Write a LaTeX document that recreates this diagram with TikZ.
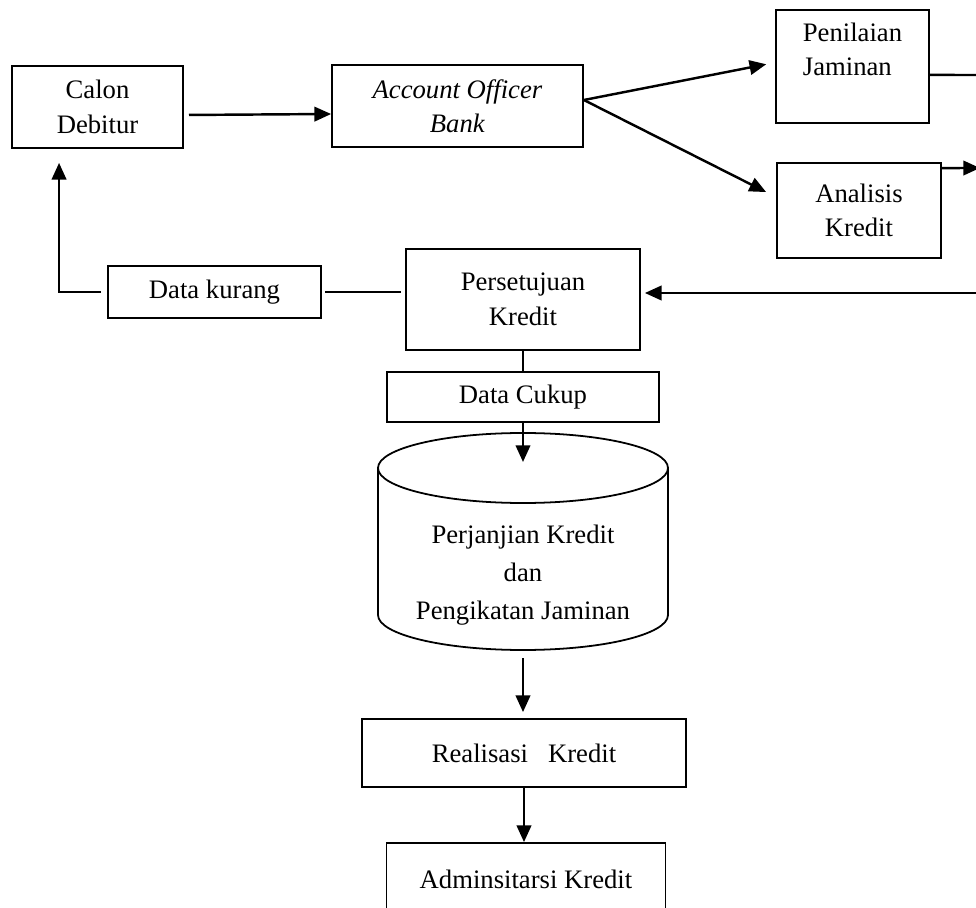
\documentclass[tikz,border=0pt]{standalone}
\usepackage{fontspec}
\setmainfont{Liberation Serif}
\usetikzlibrary{arrows.meta}

\begin{document}
\begin{tikzpicture}[x=0.45pt,y=-0.45pt,
  box/.style={draw,line width=0.8pt,align=center,inner sep=0pt,
    font=\fontsize{12}{15.5}\selectfont},
  line/.style={line width=1.1pt},
  arr/.style={line width=1.1pt,-{Triangle[length=7.5pt,width=6.5pt]}}]

\useasboundingbox (0,0) rectangle (976,908);
\clip (0,0) rectangle (976,908);

% Top row
\node[box,minimum width=76.95pt,minimum height=36.9pt] (calon) at (97.5,107) {Calon\\Debitur};
\node[box,minimum width=112.95pt,minimum height=36.9pt] (ao) at (457.5,106) {\textit{Account Officer}\\\textit{Bank}};
\node[box,align=left,minimum width=68.85pt,minimum height=50.85pt] (pen) at (852.5,66.5) {Penilaian\\Jaminan\\~};
\node[box,minimum width=73.8pt,minimum height=42.75pt] (ana) at (859,210.5) {Analisis\\Kredit};

% Middle row
\node[box,minimum width=105.3pt,minimum height=45.45pt] (setuju) at (523,299.5) {Persetujuan\\Kredit};
\node[box,minimum width=95.85pt,minimum height=23.4pt] (kurang) at (214.5,292) {Data kurang};
\node[box,minimum width=122.4pt,minimum height=22.5pt] (cukup) at (523,397) {Data Cukup};

% Cylinder
\draw[line width=0.8pt] (378,468) -- (378,615)
  arc[start angle=180,end angle=360,x radius=65.25pt,y radius=15.75pt] -- (668,468);
\draw[line width=0.8pt] (523,468) ellipse[x radius=65.25pt,y radius=15.75pt];
\node[align=center,font=\fontsize{12}{17}\selectfont] (janji) at (523,575)
  {Perjanjian Kredit\\dan\\Pengikatan Jaminan};
\coordinate (cyltop) at (523,462);
\coordinate (cylbot) at (523,658);

% Bottom
\node[box,minimum width=145.8pt,minimum height=30.6pt] (real) at (524,753) {Realisasi~~ Kredit};
\node[box,minimum width=125.55pt,minimum height=32.4pt] (admin) at (526,879) {Adminsitarsi Kredit};

% Right edge ends
\coordinate (penout) at (976,75);
\coordinate (anaout) at (980,168);
\coordinate (setujuin) at (976,293);

% Connectors
\draw[arr,shorten <=2.3pt] ([yshift=-3.6pt]calon.east) -- ([yshift=-3.6pt]ao.west);
\draw[arr] ([yshift=2.7pt]ao.east) -- ([xshift=-4pt,yshift=1pt]pen.west);
\draw[arr] ([yshift=2.7pt]ao.east) -- ([xshift=-4.5pt,yshift=8.3pt]ana.west);
\draw[line] ([yshift=-3.8pt]pen.east) -- (penout);
\draw[arr] ([yshift=19.1pt]ana.east) -- (anaout);
\draw[arr,shorten >=1.8pt] (setujuin) -- (setujuin -| setuju.east);
\draw[line,shorten >=1.3pt,shorten <=1.8pt] (setuju.west |- kurang.east) -- (kurang.east);
\draw[arr,shorten <=2.7pt] (kurang.west) -| ([xshift=-17.3pt,yshift=-6.3pt]calon.south);
\draw[line] (setuju.south) -- (cukup.north);
\draw[arr] (cukup.south) -- (cyltop);
\draw[arr,shorten >=2.7pt] (cylbot) -- (cylbot |- real.north);
\draw[arr] (real.south) -- (real.south |- admin.north);

\end{tikzpicture}
\end{document}
